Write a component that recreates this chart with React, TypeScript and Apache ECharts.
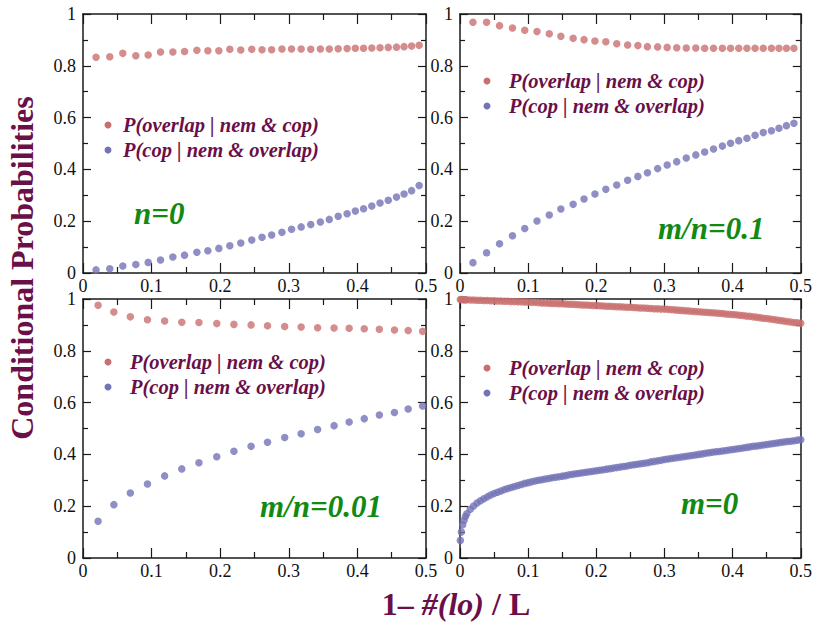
import React, { useEffect, useRef } from "react";
import * as echarts from "echarts";

// ---------- data ----------
const SERIES_NAMES = ["P(overlap | nem & cop)", "P(cop | nem & overlap)"];
const PANEL_LABELS = ["n=0", "m/n=0.1", "m/n=0.01", "m=0"];
const Y_TITLE = "Conditional Probabilities";

// panels 1 & 2 share the same x grid
const X_12 = [0.019, 0.039, 0.058, 0.077, 0.095, 0.113, 0.131, 0.148, 0.166, 0.182, 0.198, 0.214, 0.23, 0.246, 0.261, 0.275, 0.29, 0.304, 0.318, 0.332, 0.346, 0.359, 0.372, 0.385, 0.397, 0.409, 0.421, 0.433, 0.445, 0.457, 0.468, 0.479, 0.49];
const P1_OVERLAP = [0.833, 0.835, 0.848, 0.839, 0.842, 0.853, 0.853, 0.855, 0.86, 0.858, 0.858, 0.864, 0.861, 0.864, 0.862, 0.862, 0.865, 0.865, 0.865, 0.864, 0.865, 0.865, 0.866, 0.867, 0.868, 0.868, 0.869, 0.87, 0.871, 0.872, 0.874, 0.876, 0.879];
const P1_COP = [0.012, 0.016, 0.027, 0.033, 0.041, 0.05, 0.062, 0.069, 0.08, 0.086, 0.095, 0.105, 0.116, 0.127, 0.138, 0.147, 0.157, 0.169, 0.178, 0.187, 0.197, 0.207, 0.219, 0.229, 0.239, 0.248, 0.259, 0.27, 0.281, 0.293, 0.305, 0.318, 0.338];
const P2_OVERLAP = [0.968, 0.968, 0.955, 0.946, 0.937, 0.932, 0.924, 0.914, 0.906, 0.901, 0.896, 0.893, 0.885, 0.88, 0.878, 0.874, 0.873, 0.871, 0.87, 0.869, 0.869, 0.868, 0.868, 0.868, 0.868, 0.868, 0.868, 0.868, 0.868, 0.868, 0.868, 0.868, 0.868];
const P2_COP = [0.04, 0.078, 0.113, 0.144, 0.172, 0.201, 0.224, 0.247, 0.265, 0.286, 0.305, 0.323, 0.34, 0.358, 0.373, 0.387, 0.403, 0.417, 0.43, 0.444, 0.456, 0.467, 0.479, 0.49, 0.501, 0.511, 0.52, 0.532, 0.542, 0.549, 0.559, 0.569, 0.578];

const X_3 = [0.022, 0.045, 0.069, 0.094, 0.119, 0.144, 0.169, 0.195, 0.22, 0.245, 0.269, 0.294, 0.318, 0.342, 0.366, 0.388, 0.41, 0.432, 0.454, 0.474, 0.495];
const P3_OVERLAP = [0.976, 0.95, 0.931, 0.92, 0.915, 0.91, 0.909, 0.905, 0.902, 0.9, 0.897, 0.894, 0.892, 0.889, 0.888, 0.887, 0.885, 0.883, 0.88, 0.878, 0.875];
const P3_COP = [0.142, 0.206, 0.251, 0.286, 0.317, 0.344, 0.368, 0.391, 0.412, 0.431, 0.447, 0.465, 0.48, 0.496, 0.511, 0.525, 0.538, 0.552, 0.562, 0.575, 0.587];

const X_4 = [0.0005, 0.002, 0.004, 0.006, 0.008, 0.01, 0.015, 0.02, 0.025, 0.03, 0.035, 0.04, 0.045, 0.05, 0.055, 0.06, 0.065, 0.07, 0.075, 0.08, 0.085, 0.09, 0.095, 0.1, 0.105, 0.11, 0.115, 0.12, 0.125, 0.13, 0.135, 0.14, 0.145, 0.15, 0.155, 0.16, 0.165, 0.17, 0.175, 0.18, 0.185, 0.19, 0.195, 0.2, 0.205, 0.21, 0.215, 0.22, 0.225, 0.23, 0.235, 0.24, 0.245, 0.25, 0.255, 0.26, 0.265, 0.27, 0.275, 0.28, 0.285, 0.29, 0.295, 0.3, 0.305, 0.31, 0.315, 0.32, 0.325, 0.33, 0.335, 0.34, 0.345, 0.35, 0.355, 0.36, 0.365, 0.37, 0.375, 0.38, 0.385, 0.39, 0.395, 0.4, 0.405, 0.41, 0.415, 0.42, 0.425, 0.43, 0.435, 0.44, 0.445, 0.45, 0.455, 0.46, 0.465, 0.47, 0.475, 0.48, 0.485, 0.49, 0.495, 0.5];
const P4_OVERLAP = [0.998, 0.998, 0.998, 0.997, 0.997, 0.997, 0.996, 0.996, 0.995, 0.995, 0.994, 0.994, 0.993, 0.993, 0.992, 0.992, 0.991, 0.991, 0.99, 0.99, 0.989, 0.989, 0.988, 0.988, 0.987, 0.987, 0.986, 0.985, 0.985, 0.984, 0.983, 0.983, 0.982, 0.982, 0.981, 0.98, 0.98, 0.979, 0.978, 0.977, 0.977, 0.976, 0.975, 0.975, 0.974, 0.973, 0.972, 0.972, 0.971, 0.97, 0.97, 0.969, 0.968, 0.968, 0.967, 0.966, 0.965, 0.965, 0.964, 0.963, 0.962, 0.962, 0.961, 0.961, 0.96, 0.959, 0.958, 0.957, 0.956, 0.955, 0.954, 0.953, 0.952, 0.951, 0.95, 0.949, 0.948, 0.947, 0.946, 0.945, 0.944, 0.942, 0.941, 0.94, 0.939, 0.937, 0.936, 0.934, 0.933, 0.931, 0.93, 0.928, 0.926, 0.925, 0.923, 0.921, 0.919, 0.917, 0.915, 0.913, 0.911, 0.909, 0.908, 0.906];
const P4_COP = [0.068, 0.1, 0.128, 0.146, 0.16, 0.171, 0.188, 0.201, 0.212, 0.221, 0.229, 0.236, 0.243, 0.249, 0.254, 0.259, 0.264, 0.268, 0.272, 0.276, 0.28, 0.284, 0.288, 0.291, 0.294, 0.297, 0.3, 0.302, 0.305, 0.307, 0.31, 0.312, 0.314, 0.316, 0.318, 0.321, 0.323, 0.325, 0.327, 0.329, 0.331, 0.333, 0.335, 0.337, 0.339, 0.341, 0.343, 0.345, 0.347, 0.349, 0.351, 0.353, 0.355, 0.358, 0.36, 0.362, 0.364, 0.366, 0.368, 0.371, 0.373, 0.375, 0.377, 0.38, 0.382, 0.384, 0.386, 0.388, 0.39, 0.392, 0.394, 0.396, 0.398, 0.4, 0.402, 0.404, 0.406, 0.408, 0.41, 0.411, 0.413, 0.415, 0.417, 0.419, 0.421, 0.423, 0.425, 0.427, 0.429, 0.431, 0.432, 0.434, 0.436, 0.438, 0.44, 0.442, 0.444, 0.446, 0.448, 0.45, 0.451, 0.453, 0.455, 0.457];

// ---------- styling / layout ----------
const RED = "#c96f6f";
const BLUE = "#7373b6";
const MAROON = "#6a0f48";
const GREEN = "#128a12";
const SERIF = "Liberation Serif";

const PANELS = [
  { grid: { left: 83, top: 14 }, x: X_12, a: P1_OVERLAP, b: P1_COP, leg: { cx: 108, tx: 123, y: 125 }, lab: { x: 134, y: 213 } },
  { grid: { left: 460, top: 14 }, x: X_12, a: P2_OVERLAP, b: P2_COP, leg: { cx: 487, tx: 509, y: 81 }, lab: { x: 658, y: 228 } },
  { grid: { left: 83, top: 299 }, x: X_3, a: P3_OVERLAP, b: P3_COP, leg: { cx: 108, tx: 130, y: 362 }, lab: { x: 260, y: 506 } },
  { grid: { left: 460, top: 299 }, x: X_4, a: P4_OVERLAP, b: P4_COP, leg: { cx: 487, tx: 509, y: 368 }, lab: { x: 681, y: 503 } },
];
const GW = 343;
const GH = 259;

function buildOption() {
  const grid: any[] = [];
  const xAxis: any[] = [];
  const yAxis: any[] = [];
  const series: any[] = [];
  const graphic: any[] = [];
  const line = { show: true, onZero: false, lineStyle: { color: "#1a1a1a", width: 1.5 } };
  const tickStyle = { color: "#1a1a1a", width: 1.2 };

  PANELS.forEach((p, i) => {
    grid.push({ left: p.grid.left, top: p.grid.top, width: GW, height: GH, containLabel: false });
    const xBase = {
      gridIndex: i,
      type: "value",
      min: 0,
      max: 0.5,
      interval: 0.1,
      axisLine: line,
      axisTick: { show: true, inside: true, length: 10, lineStyle: tickStyle },
      minorTick: { show: true, splitNumber: 2, length: 6, lineStyle: tickStyle },
      splitLine: { show: false },
    };
    xAxis.push({
      ...xBase,
      position: "bottom",
      axisLabel: { fontSize: 18, fontFamily: SERIF, color: "#111", margin: 4 },
    });
    xAxis.push({ ...xBase, position: "top", axisLabel: { show: false } });
    const yBase = {
      gridIndex: i,
      type: "value",
      min: 0,
      max: 1,
      interval: 0.2,
      axisLine: line,
      axisTick: { show: true, inside: true, length: 8, lineStyle: tickStyle },
      minorTick: { show: true, splitNumber: 2, length: 5, lineStyle: tickStyle },
      splitLine: { show: false },
    };
    yAxis.push({
      ...yBase,
      position: "left",
      axisLabel: { fontSize: 18, fontFamily: SERIF, color: "#111", margin: 7 },
    });
    yAxis.push({ ...yBase, position: "right", axisLabel: { show: false } });

    series.push({
      type: "scatter",
      name: SERIES_NAMES[0],
      xAxisIndex: 2 * i,
      yAxisIndex: 2 * i,
      symbolSize: 7.5,
      itemStyle: { color: RED },
      data: p.x.map((x, j) => [x, p.a[j]]),
    });
    series.push({
      type: "scatter",
      name: SERIES_NAMES[1],
      xAxisIndex: 2 * i,
      yAxisIndex: 2 * i,
      symbolSize: 7.5,
      itemStyle: { color: BLUE },
      data: p.x.map((x, j) => [x, p.b[j]]),
    });

    [0, 1].forEach((k) => {
      const yy = p.leg.y + k * 25;
      graphic.push({ type: "circle", shape: { cx: p.leg.cx, cy: yy, r: 3.5 }, style: { fill: k === 0 ? RED : BLUE } });
      graphic.push({
        type: "text",
        x: p.leg.tx,
        y: yy,
        style: {
          text: SERIES_NAMES[k],
          fontSize: 20.5,
          fontWeight: "bold",
          fontStyle: "italic",
          fontFamily: SERIF,
          fill: MAROON,
          align: "left",
          verticalAlign: "middle",
        },
      });
    });
    graphic.push({
      type: "text",
      x: p.lab.x,
      y: p.lab.y,
      style: {
        text: PANEL_LABELS[i],
        fontSize: 31,
        fontWeight: "bold",
        fontStyle: "italic",
        fontFamily: SERIF,
        fill: GREEN,
        align: "left",
        verticalAlign: "middle",
      },
    });
  });

  graphic.push({
    type: "text",
    x: 22,
    y: 268,
    rotation: Math.PI / 2,
    style: {
      text: Y_TITLE,
      fontSize: 32,
      fontWeight: "bold",
      fontFamily: SERIF,
      fill: MAROON,
      align: "center",
      verticalAlign: "middle",
    },
  });
  graphic.push({
    type: "text",
    x: 456,
    y: 604,
    style: {
      text: "{a|1– }{b|#(lo)}{a| / L}",
      rich: {
        a: { fontSize: 32, fontWeight: "bold", fontFamily: SERIF, fill: MAROON },
        b: { fontSize: 32, fontWeight: "bold", fontStyle: "italic", fontFamily: SERIF, fill: MAROON },
      },
      fontFamily: SERIF,
      fontSize: 32,
      fontWeight: "bold",
      fill: MAROON,
      align: "center",
      verticalAlign: "middle",
    },
  });

  return {
    animation: false,
    backgroundColor: "#ffffff",
    textStyle: { fontFamily: SERIF },
    grid,
    xAxis,
    yAxis,
    series,
    graphic,
  };
}

export default function App() {
  const ref = useRef<HTMLDivElement>(null);
  useEffect(() => {
    if (!ref.current) return;
    const chart = echarts.init(ref.current, null, { renderer: "svg" });
    chart.setOption(buildOption() as any);
    return () => chart.dispose();
  }, []);
  return (
    <div
      ref={ref}
      style={{ position: "absolute", left: 0, top: 0, width: 815, height: 623, background: "#fff" }}
    />
  );
}
